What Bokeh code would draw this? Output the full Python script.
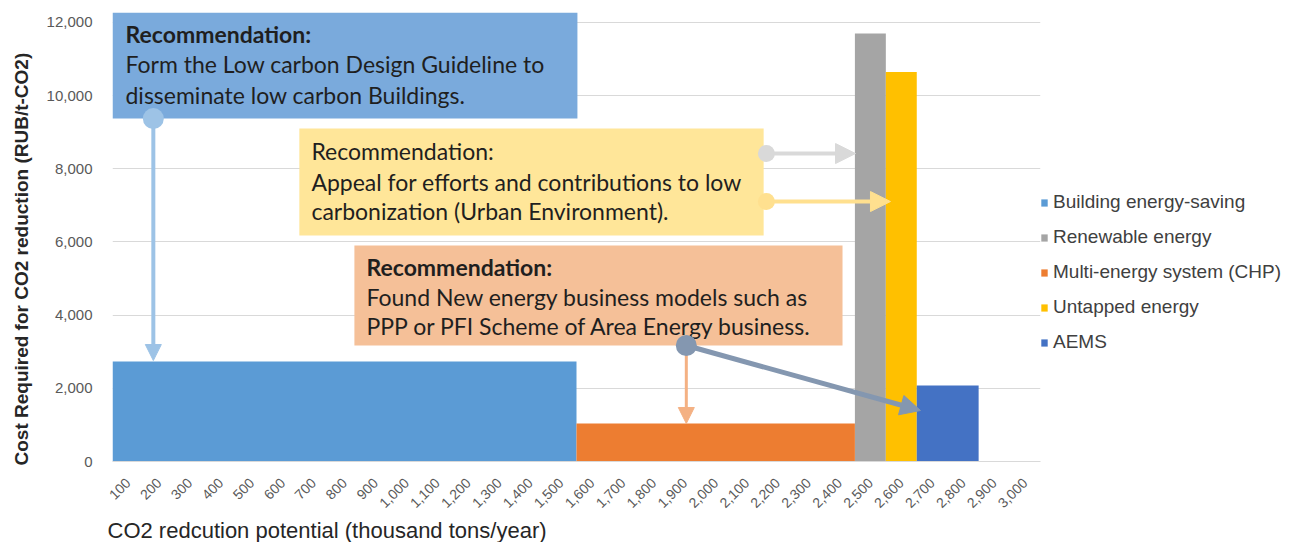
import math
from bokeh.plotting import figure
from bokeh.models import (FixedTicker, NumeralTickFormatter, Legend, LegendItem,
                          BoxAnnotation, Arrow, NormalHead, Label, Title)
from bokeh.embed import file_html
from bokeh.resources import INLINE

# ---- data ----
categories = ["Building energy-saving", "Renewable energy", "Multi-energy system (CHP)",
              "Untapped energy", "AEMS"]
first_tick = [100, 2500, 1600, 2600, 2700]     # first potential category (thousand t/yr)
last_tick = [1500, 2500, 2400, 2600, 2800]     # last potential category
cost = [2730, 11700, 1040, 10650, 2080]        # RUB/t-CO2
colors = ["#5B9BD5", "#A5A5A5", "#ED7D31", "#FFC000", "#4472C4"]
x_ticks = list(range(100, 3001, 100))
y_ticks = list(range(0, 12001, 2000))
half_step = 50

CHART_FONT = "Liberation Sans"
BOX_FONT = "Lato"

p = figure(frame_width=928, frame_height=449, x_range=(50, 3050), y_range=(0, 12273),
           output_backend="svg", toolbar_location=None,
           min_border_left=112, min_border_right=250, min_border_top=12, min_border_bottom=73)
p.outline_line_color = None
p.background_fill_color = "white"

items = []
for i, c in enumerate(categories):
    r = p.quad(left=[first_tick[i] - half_step], right=[last_tick[i] + half_step],
               bottom=[0], top=[cost[i]], fill_color=colors[i], line_color=None)
    items.append(LegendItem(label=c, renderers=[r]))

# axes
p.yaxis.ticker = FixedTicker(ticks=y_ticks)
p.yaxis.formatter = NumeralTickFormatter(format="0,0")
p.yaxis.axis_line_color = None
p.yaxis.major_tick_line_color = None
p.yaxis.minor_tick_line_color = None
p.yaxis.major_label_text_font = CHART_FONT
p.yaxis.major_label_text_font_size = "15px"
p.yaxis.major_label_text_color = "#595959"
p.yaxis.major_label_standoff = 14

p.xaxis.ticker = FixedTicker(ticks=x_ticks)
p.xaxis.formatter = NumeralTickFormatter(format="0,0")
p.xaxis.major_label_orientation = math.pi / 4
p.xaxis.major_label_text_font = CHART_FONT
p.xaxis.major_label_text_font_size = "14px"
p.xaxis.major_label_text_color = "#595959"
p.xaxis.major_label_standoff = 13
p.xaxis.axis_line_color = "#D9D9D9"
p.xaxis.major_tick_line_color = None
p.xaxis.minor_tick_line_color = None

p.xgrid.visible = False
p.ygrid.ticker = FixedTicker(ticks=y_ticks)
p.ygrid.grid_line_color = "#D9D9D9"

xt = Title(text="CO2 redcution potential (thousand tons/year)", align="left", offset=-5,
           standoff=0, text_font=CHART_FONT, text_font_size="22px", text_font_style="normal",
           text_color="#262626")
p.add_layout(xt, "below")

yt = Title(text="Cost Required for CO2 reduction (RUB/t-CO2)", align="left", offset=-4,
           standoff=19, vertical_align="top", text_font=CHART_FONT, text_font_size="19px",
           text_font_style="bold", text_color="#262626")
p.add_layout(yt, "left")

legend = Legend(items=items, location=(0, 108), orientation="vertical",
                glyph_width=8, glyph_height=9, label_text_font=CHART_FONT,
                label_text_font_size="19px", label_text_color="#404040",
                label_standoff=5, spacing=13, label_height=22, padding=0, margin=0,
                border_line_color=None, background_fill_alpha=0)
p.add_layout(legend, "right")

# ---- annotation boxes (data coordinates) ----
boxes = [
    dict(l=50, r=1553, b=9374, t=12273, fill="#7AAADC",
         lines=["Recommendation:", "Form the Low carbon Design Guideline to",
                "disseminate low carbon Buildings."], tx=92, ty=[11685, 10865, 10018]),
    dict(l=654, r=2155, b=6177, t=9101, fill="#FFE699",
         lines=["Recommendation:", "Appeal for efforts and contributions to low",
                "carbonization (Urban Environment)."], tx=693, ty=[8478, 7630, 6838]),
    dict(l=832, r=2410, b=3170, t=5903, fill="#F5C098",
         lines=["Recommendation:", "Found New energy business models such as",
                "PPP or PFI Scheme of Area Energy business."], tx=871, ty=[5330, 4510, 3717]),
]
bold_first = [True, False, True]
for k, b in enumerate(boxes):
    p.add_layout(BoxAnnotation(left=b["l"], right=b["r"], bottom=b["b"], top=b["t"],
                               fill_color=b["fill"], fill_alpha=1, line_color=None))
for k, b in enumerate(boxes):
    for j, (txt, yy) in enumerate(zip(b["lines"], b["ty"])):
        p.add_layout(Label(x=b["tx"], y=yy, text=txt, text_font=BOX_FONT,
                           text_font_size="23px",
                           text_font_style="bold" if (j == 0 and bold_first[k]) else "normal",
                           text_baseline="middle", text_color="#1F1F1F"))

arrows = [
    (182, 9374, 182, 2760, "#9DC3E6", 4, 16),
    (2164, 8418, 2452, 8418, "#D9D9D9", 4, 20),
    (2164, 7106, 2565, 7106, "#FFE08F", 4, 20),
    (1905, 3170, 1905, 1039, "#F4B183", 3, 16),
    (1905, 3170, 2662, 1394, "#8497B0", 5, 20),
]
for xs, ys, xe, ye, c, w, s in arrows:
    p.add_layout(Arrow(x_start=xs, y_start=ys, x_end=xe, y_end=ye, line_color=c, line_width=w,
                       end=NormalHead(size=s, fill_color=c, line_color=c, line_width=1)))

dot_x = [182, 2164, 2164, 1905]
dot_y = [9374, 8418, 7106, 3170]
dot_c = ["#9DC3E6", "#D9D9D9", "#FFE08F", "#8497B0"]
dot_s = [21, 17, 17, 21]
p.scatter(x=dot_x, y=dot_y, size=dot_s, fill_color=dot_c, line_color=None, level="overlay")

open("out.html", "w").write(file_html(p, INLINE))
